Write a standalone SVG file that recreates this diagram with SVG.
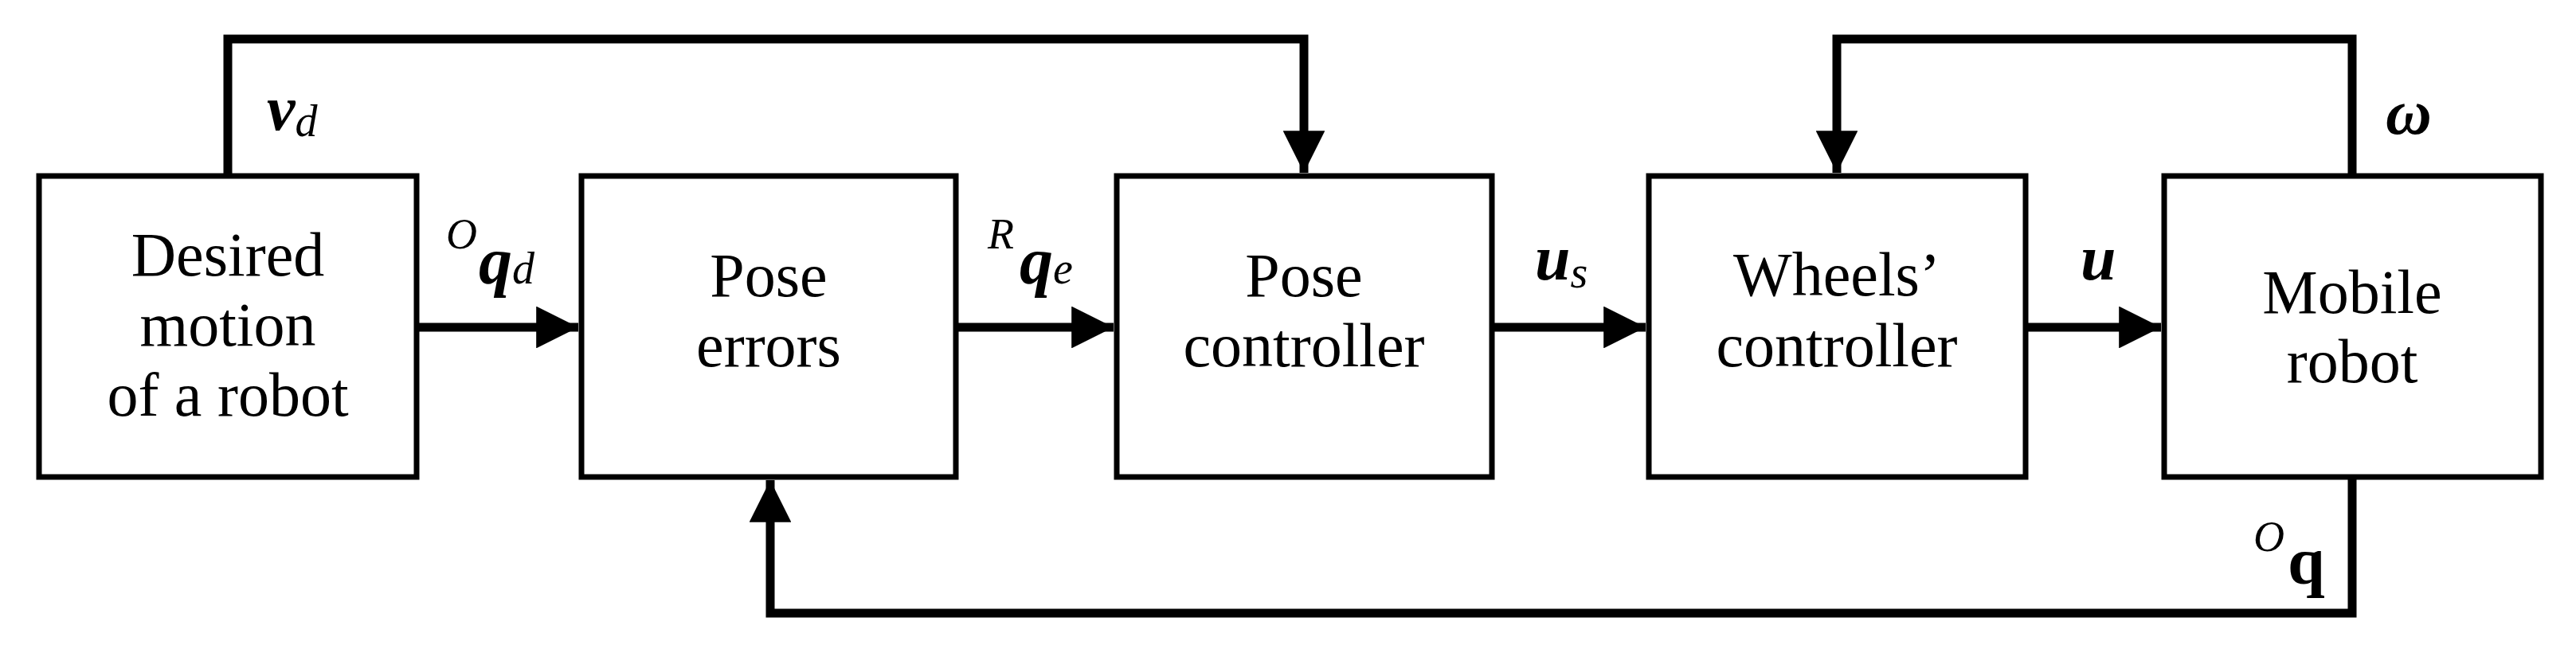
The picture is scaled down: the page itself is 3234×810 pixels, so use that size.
<svg xmlns="http://www.w3.org/2000/svg" width="3234" height="810" viewBox="0 0 3234 810">
<style>
.box{fill:#fff;stroke:#000;stroke-width:7}
.t{font-family:"Liberation Serif",serif;font-size:78px;text-anchor:middle;fill:#000}
.l{font-family:"Liberation Serif",serif;fill:#000}
.c{fill:none;stroke:#000;stroke-width:11}
</style>
<defs>
<marker id="ah" viewBox="0 0 10 10" refX="10" refY="5" markerWidth="4.8" markerHeight="4.8" orient="auto" markerUnits="strokeWidth">
<path d="M0,0L10,5L0,10z" fill="#000"/>
</marker>
</defs>
<rect width="3234" height="810" fill="#fff"/>
<g id="connectors">
<path class="c" d="M286,221V49H1637V217" marker-end="url(#ah)"/>
<path class="c" d="M2953,221V49H2306V217" marker-end="url(#ah)"/>
<path class="c" d="M2953,599V770H967V603" marker-end="url(#ah)"/>
<path class="c" d="M523,411H726" marker-end="url(#ah)"/>
<path class="c" d="M1200,411H1398" marker-end="url(#ah)"/>
<path class="c" d="M1873,411H2066" marker-end="url(#ah)"/>
<path class="c" d="M2543,411H2713" marker-end="url(#ah)"/>
</g>
<g id="desired">
<rect class="box" x="49" y="221" width="474" height="378"/>
<text class="t" x="286" y="346">Desired</text>
<text class="t" x="286" y="434">motion</text>
<text class="t" x="286" y="522">of a robot</text>
</g>
<g id="pose-errors">
<rect class="box" x="730" y="221" width="470" height="378"/>
<text class="t" x="965" y="372">Pose</text>
<text class="t" x="965" y="460">errors</text>
</g>
<g id="pose-controller">
<rect class="box" x="1402" y="221" width="471" height="378"/>
<text class="t" x="1637" y="372">Pose</text>
<text class="t" x="1637" y="460">controller</text>
</g>
<g id="wheels-controller">
<rect class="box" x="2070" y="221" width="473" height="378"/>
<text class="t" x="2306" y="371">Wheels’</text>
<text class="t" x="2306" y="460">controller</text>
</g>
<g id="mobile-robot">
<rect class="box" x="2717" y="221" width="473" height="378"/>
<text class="t" x="2953" y="393">Mobile</text>
<text class="t" x="2953" y="480">robot</text>
</g>
<g id="labels">
<text class="l" x="335" y="163" font-size="80" font-weight="bold" font-style="italic">v<tspan font-size="56" font-weight="normal" dy="8">d</tspan></text>
<text class="l" x="560" y="312" font-size="54" font-style="italic">O</text>
<text class="l" x="601" y="356" font-size="84" font-weight="bold" font-style="italic">q<tspan font-size="56" font-weight="normal">d</tspan></text>
<text class="l" x="1240" y="312" font-size="54" font-style="italic">R</text>
<text class="l" x="1280" y="356" font-size="84" font-weight="bold" font-style="italic">q<tspan font-size="56" font-weight="normal">e</tspan></text>
<text class="l" x="1927" y="351" font-size="80" font-weight="bold" font-style="italic">u<tspan font-size="56" font-weight="normal" dy="10">s</tspan></text>
<text class="l" x="2612" y="351" font-size="80" font-weight="bold" font-style="italic">u</text>
<text class="l" x="2995" y="168" font-size="80" font-weight="bold" font-style="italic">ω</text>
<text class="l" x="2829" y="692" font-size="54" font-style="italic">O</text>
<text class="l" x="2872" y="733" font-size="84" font-weight="bold">q</text>
</g>
</svg>
